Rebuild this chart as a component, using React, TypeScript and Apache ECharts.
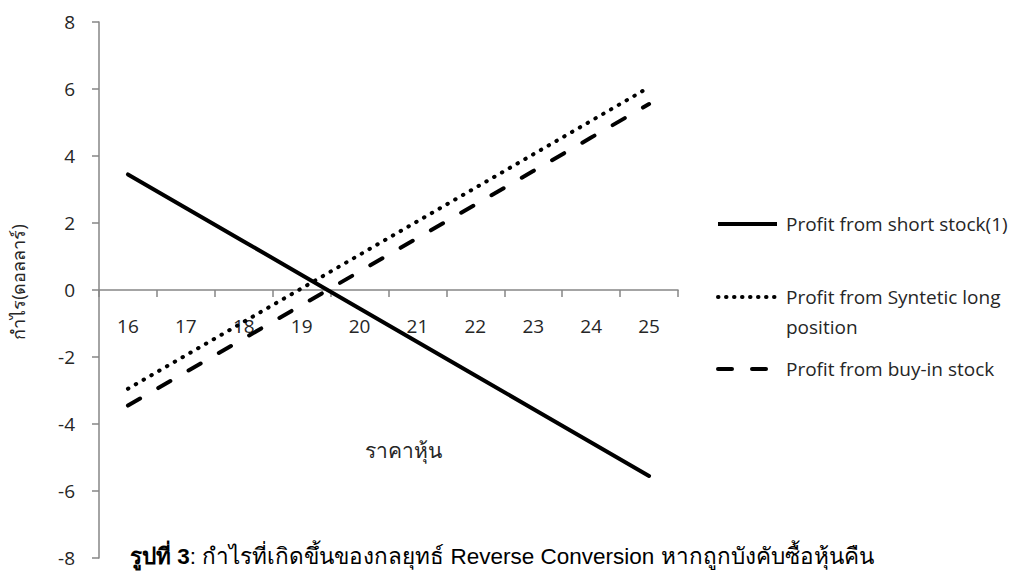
import React, { useEffect, useRef } from "react";
import * as echarts from "echarts";

const prices = ["16", "17", "18", "19", "20", "21", "22", "23", "24", "25"];
const shortStock = [3.45, 2.45, 1.45, 0.45, -0.55, -1.55, -2.55, -3.55, -4.55, -5.55];
const syntheticLong = [-2.95, -1.95, -0.95, 0.05, 1.05, 2.05, 3.05, 4.05, 5.05, 6.05];
const buyInStock = [-3.45, -2.45, -1.45, -0.45, 0.55, 1.55, 2.55, 3.55, 4.55, 5.55];
const seriesNames = [
  "Profit from short stock(1)",
  "Profit from Syntetic long\nposition",
  "Profit from buy-in stock",
];
const yAxisTitle = "กำไร(ดอลลาร์)";
const xAxisTitle = "ราคาหุ้น";
const captionBold = "รูปที่ 3";
const captionRest = ": กำไรที่เกิดขึ้นของกลยุทธ์ Reverse Conversion หากถูกบังคับซื้อหุ้นคืน";

const FONT = "'Open Sans', Lato, 'Noto Sans', sans-serif";
const CAPFONT = "'Liberation Sans', Arial, sans-serif";
const dotted = [0.5, 8.5];
const dashed = [14, 21];

export default function App() {
  const ref = useRef<HTMLDivElement>(null);
  useEffect(() => {
    if (!ref.current) return;
    const chart = echarts.init(ref.current, null, { renderer: "svg" });
    const lineStyles = [
      { type: "solid" as any, width: 4, cap: "round" },
      { type: dotted as any, width: 4, cap: "round" },
      { type: dashed as any, width: 4, cap: "round" },
    ];
    const legendY = [224, 297, 369];
    const legendGraphics: any[] = [];
    seriesNames.forEach((name, i) => {
      legendGraphics.push({
        type: "line",
        shape: { x1: 718, y1: legendY[i], x2: i === 2 ? 772 : 777, y2: legendY[i] },
        style: {
          stroke: "#000",
          lineWidth: 4,
          lineCap: i === 0 ? "butt" : "round",
          lineDash: i === 0 ? null : i === 1 ? [0.5, 7.5] : [14, 20],
        },
      });
      legendGraphics.push({
        type: "text",
        x: 786,
        y: legendY[i] - 15,
        style: {
          text: name,
          fontFamily: FONT,
          fontSize: 19,
          fill: "#262626",
          lineHeight: 30,
          textVerticalAlign: "top",
        },
      });
    });
    chart.setOption({
      animation: false,
      grid: { left: 99, right: 354, top: 22, bottom: 21, outerBoundsMode: "none" },
      xAxis: {
        type: "category",
        data: prices,
        boundaryGap: true,
        offset: -268,
        axisLine: { onZero: false, lineStyle: { color: "#868686", width: 1.5 } },
        axisTick: { show: true, length: 7, interval: 0, alignWithLabel: false, lineStyle: { color: "#868686", width: 1.5 } },
        axisLabel: { margin: 26, fontSize: 19, color: "#262626", fontFamily: FONT, interval: 0 },
        splitLine: { show: false },
      },
      yAxis: {
        type: "value",
        min: -8,
        max: 8,
        interval: 2,
        axisLine: { show: true, lineStyle: { color: "#868686", width: 1.5 } },
        axisTick: { show: true, length: 7, lineStyle: { color: "#868686", width: 1.5 } },
        axisLabel: { margin: 24, fontSize: 19, color: "#262626", fontFamily: FONT },
        splitLine: { show: false },
      },
      series: [shortStock, syntheticLong, buyInStock].map((d, i) => ({
        name: seriesNames[i],
        type: "line",
        data: d,
        symbol: "none",
        lineStyle: { color: "#000", ...lineStyles[i] },
        z: 3 - i,
      })),
      graphic: [
        {
          type: "text",
          x: 18,
          y: 282,
          rotation: Math.PI / 2,
          style: {
            text: yAxisTitle,
            fontFamily: FONT,
            fontSize: 18,
            fill: "#262626",
            textAlign: "center",
            textVerticalAlign: "middle",
          },
        },
        {
          type: "text",
          x: 403,
          y: 450,
          style: {
            text: xAxisTitle,
            fontFamily: FONT,
            fontSize: 21,
            fill: "#262626",
            textAlign: "center",
            textVerticalAlign: "middle",
          },
        },
        {
          type: "text",
          x: 130,
          y: 556,
          style: {
            text: "{b|" + captionBold + "}{n|" + captionRest + "}",
            textVerticalAlign: "middle",
            rich: {
              b: { fontFamily: CAPFONT, fontSize: 22.5, fontWeight: "bold", fill: "#000" },
              n: { fontFamily: CAPFONT, fontSize: 22.5, fill: "#000" },
            },
          },
        },
        ...legendGraphics,
      ],
    });
    return () => chart.dispose();
  }, []);
  return (
    <div
      ref={ref}
      style={{ position: "fixed", left: 0, top: 0, width: 1032, height: 579, background: "#fff" }}
    />
  );
}
